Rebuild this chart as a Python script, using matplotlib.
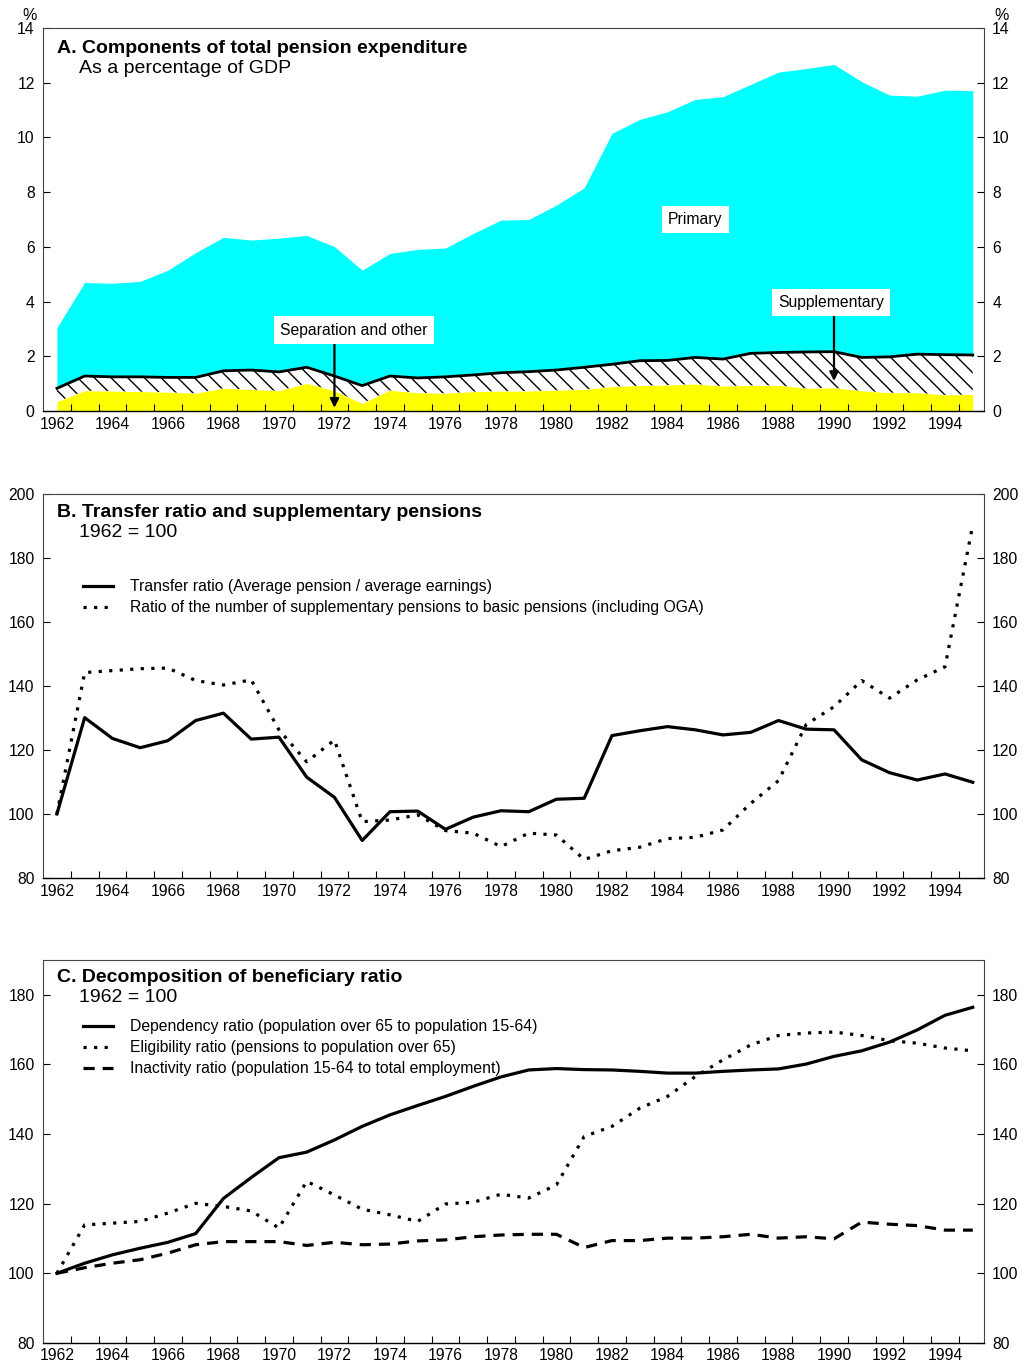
import numpy as np
import matplotlib
matplotlib.use("Agg")
import matplotlib.pyplot as plt

plt.rcParams['font.family'] = ['Liberation Sans', 'DejaVu Sans']
plt.rcParams['hatch.linewidth'] = 1.0

years = list(range(1962, 1996))

# Panel A: % of GDP
separation = [0.34, 0.74, 0.73, 0.71, 0.69, 0.65, 0.83, 0.79, 0.74, 1.01, 0.74, 0.28,
              0.76, 0.67, 0.65, 0.71, 0.73, 0.73, 0.76, 0.79, 0.89, 0.93, 0.95, 0.99,
              0.91, 0.94, 0.94, 0.83, 0.85, 0.74, 0.67, 0.67, 0.59, 0.61]
supplementary = [0.49, 0.54, 0.52, 0.54, 0.54, 0.58, 0.64, 0.71, 0.69, 0.59, 0.54, 0.65,
                 0.52, 0.54, 0.60, 0.61, 0.67, 0.71, 0.74, 0.81, 0.82, 0.91, 0.90, 0.97,
                 0.99, 1.17, 1.20, 1.33, 1.32, 1.22, 1.31, 1.41, 1.47, 1.44]
primary = [2.22, 3.42, 3.42, 3.49, 3.92, 4.56, 4.88, 4.75, 4.89, 4.82, 4.73, 4.22,
           4.48, 4.70, 4.71, 5.17, 5.58, 5.56, 6.03, 6.56, 8.44, 8.82, 9.09, 9.43,
           9.59, 9.83, 10.25, 10.36, 10.50, 10.08, 9.57, 9.43, 9.67, 9.66]

# Panel B: 1962 = 100
transfer_ratio = [100, 130.1, 123.6, 120.7, 122.9, 129.2, 131.5, 123.4, 124.0, 111.5, 105.2, 91.7,
                  100.7, 100.9, 95.2, 99.0, 101.0, 100.7, 104.6, 104.9, 124.5, 126.0, 127.3, 126.3,
                  124.7, 125.5, 129.2, 126.5, 126.3, 116.9, 112.9, 110.6, 112.5, 109.9]
suppl_ratio = [100, 144.2, 144.8, 145.4, 145.6, 141.7, 140.3, 141.9, 126.3, 116.3, 123.1, 97.6,
               98.1, 99.7, 94.8, 94.0, 89.8, 94.0, 93.4, 85.8, 88.5, 89.6, 92.3, 92.7,
               95.0, 103.3, 110.4, 128.0, 133.5, 141.7, 136.2, 141.9, 146.0, 190.3]

# Panel C: 1962 = 100
dependency = [100, 102.9, 105.3, 107.2, 108.9, 111.4, 121.5, 127.5, 133.2, 134.8, 138.3, 142.2,
              145.5, 148.2, 150.8, 153.7, 156.4, 158.4, 158.8, 158.5, 158.4, 158.0, 157.5, 157.5,
              158.0, 158.4, 158.7, 160.1, 162.3, 163.9, 166.4, 169.9, 174.1, 176.4]
eligibility = [100, 113.9, 114.4, 114.9, 117.3, 120.1, 119.2, 117.9, 113.0, 126.4, 122.5, 118.4,
               116.8, 114.9, 119.9, 120.4, 122.7, 121.6, 125.4, 139.3, 142.2, 147.4, 150.8, 156.5,
               161.3, 165.6, 168.3, 169.0, 169.3, 168.3, 166.8, 166.1, 164.7, 163.9]
inactivity = [100, 101.6, 102.9, 103.9, 105.8, 108.2, 109.1, 109.1, 109.1, 108.0, 108.9, 108.2,
              108.4, 109.3, 109.6, 110.5, 111.0, 111.2, 111.2, 107.4, 109.4, 109.4, 110.1, 110.1,
              110.5, 111.2, 110.1, 110.5, 109.9, 114.7, 114.1, 113.7, 112.4, 112.4]

fig = plt.figure(figsize=(10.27, 13.62), dpi=100)
L, R = 0.0419, 0.958
axA = fig.add_axes([L, 0.6982, R - L, 0.9794 - 0.6982])
axB = fig.add_axes([L, 0.3554, R - L, 0.6373 - 0.3554])
axC = fig.add_axes([L, 0.0140, R - L, 0.2952 - 0.0140])

def style(ax, ylo, yhi, step):
    ax.set_xlim(1961.5, 1995.4)
    ax.set_ylim(ylo, yhi)
    ax.set_xticks(range(1962, 1996, 2))
    ax.set_xticks(np.arange(1962.5, 1995, 1), minor=True)
    ax.set_yticks(np.arange(ylo, yhi + 0.1, step))
    ax.tick_params(axis='x', which='major', length=0, pad=4, labelsize=11.3)
    ax.tick_params(axis='x', which='minor', direction='in', length=5, width=0.8)
    ax.tick_params(axis='y', direction='in', length=5, width=0.8, left=True, right=True,
                   labelleft=True, labelright=True, labelsize=11.3, pad=6)
    for s in ['top', 'left', 'right']:
        ax.spines[s].set_color('#444444')
        ax.spines[s].set_linewidth(0.8)
    ax.spines['bottom'].set_linewidth(1.0)

def legend(ax, ytop):
    ax.legend(loc='upper left', bbox_to_anchor=(0.042, ytop), frameon=False, fontsize=11.3,
              handlelength=1.95, handletextpad=1.07, labelspacing=0.38, borderpad=0, borderaxespad=0)

# ---- Panel A
y = np.array(years)
s1 = np.array(separation)
s2 = s1 + np.array(supplementary)
s3 = s2 + np.array(primary)
axA.fill_between(y, 0, s1, color='#FFFF00', lw=0)
axA.fill_between(y, s1, s2, facecolor='white', edgecolor='black', hatch='\\\\', lw=0)
axA.fill_between(y, s2, s3, color='#00FFFF', lw=0)
axA.plot(y, s2, color='black', lw=2)
style(axA, 0, 14, 2)

axA.text(0.015, 0.946, 'A. Components of total pension expenditure', transform=axA.transAxes,
         fontsize=14, fontweight='bold', va='center')
axA.text(0.038, 0.894, 'As a percentage of GDP', transform=axA.transAxes, fontsize=14, va='center')

box = dict(boxstyle='square,pad=0.4', facecolor='white', edgecolor='none')
axA.text(1985.0, 7.0, 'Primary', fontsize=11.3, ha='center', va='center', bbox=box, zorder=5)
axA.text(1989.9, 3.97, 'Supplementary', fontsize=11.3, ha='center', va='center', bbox=box, zorder=5)
axA.text(1972.7, 2.96, 'Separation and other', fontsize=11.3, ha='center', va='center', bbox=box, zorder=5)
arr = dict(arrowstyle='-|>', color='black', lw=1.6, mutation_scale=13, shrinkA=0, shrinkB=0)
axA.annotate('', xy=(1990, 1.1), xytext=(1990, 3.5), arrowprops=arr, zorder=4)
axA.annotate('', xy=(1972, 0.12), xytext=(1972, 2.5), arrowprops=arr, zorder=4)

fig.text(30 / 1027, 1 - 15 / 1362, '%', fontsize=11.5, ha='center', va='center')
fig.text(1002 / 1027, 1 - 15 / 1362, '%', fontsize=11.5, ha='center', va='center')

# ---- Panel B
axB.plot(years, transfer_ratio, color='black', lw=2.3,
         label='Transfer ratio (Average pension / average earnings)')
axB.plot(years, suppl_ratio, color='black', lw=2.3, ls=(0, (1, 2.3)),
         label='Ratio of the number of supplementary pensions to basic pensions (including OGA)')
style(axB, 80, 200, 20)
axB.text(0.015, 0.953, 'B. Transfer ratio and supplementary pensions', transform=axB.transAxes,
         fontsize=14, fontweight='bold', va='center')
axB.text(0.038, 0.900, '1962 = 100', transform=axB.transAxes, fontsize=14, va='center')
legend(axB, 0.778)

# ---- Panel C
axC.plot(years, dependency, color='black', lw=2.3,
         label='Dependency ratio (population over 65 to population 15-64)')
axC.plot(years, eligibility, color='black', lw=2.3, ls=(0, (1, 2.3)),
         label='Eligibility ratio (pensions to population over 65)')
axC.plot(years, inactivity, color='black', lw=2.3, ls=(0, (3.5, 2.5)),
         label='Inactivity ratio (population 15-64 to total employment)')
style(axC, 80, 190, 20)
axC.set_yticks(range(80, 181, 20))
axC.text(0.015, 0.953, 'C. Decomposition of beneficiary ratio', transform=axC.transAxes,
         fontsize=14, fontweight='bold', va='center')
axC.text(0.038, 0.903, '1962 = 100', transform=axC.transAxes, fontsize=14, va='center')
legend(axC, 0.845)

fig.savefig('out.png', dpi=100)
